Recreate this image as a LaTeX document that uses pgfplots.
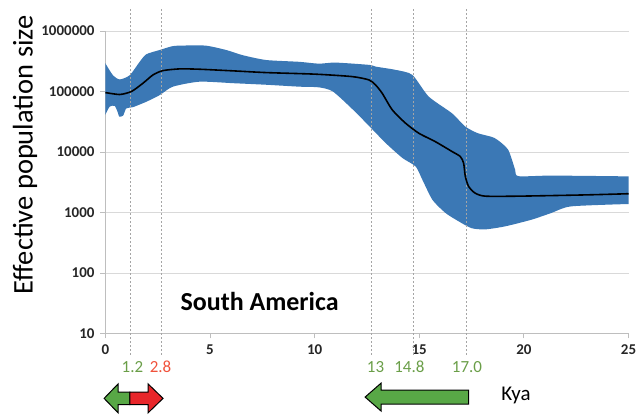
\documentclass[border=0pt]{standalone}
\usepackage{pgfplots}
\pgfplotsset{compat=1.18}
\usepgfplotslibrary{fillbetween}
\usepackage{fontspec}
\setmainfont{Carlito}
\newcommand\tl[1]{{\bfseries\fontsize{15}{17}\selectfont #1}}
\definecolor{bandblue}{RGB}{59,120,181}
\definecolor{gridgray}{RGB}{217,217,217}
\definecolor{axisgray}{RGB}{190,190,190}
\definecolor{dashgray}{RGB}{165,165,165}
\definecolor{arrgreen}{RGB}{88,168,70}
\definecolor{arrred}{RGB}{232,38,42}
\definecolor{txtgreen}{RGB}{106,158,72}
\definecolor{txtred}{RGB}{240,82,60}
\begin{document}
\begin{tikzpicture}
\begin{axis}[
  at={(0pt,0pt)}, anchor=south west,
  scale only axis, width=524pt, height=303pt,
  xmin=0, xmax=25, ymin=10, ymax=1000000,
  ymode=log, yminorticks=false,
  axis lines*=left,
  axis line style={draw=axisgray, line width=0.8pt},
  ymajorgrids, grid style={gridgray, line width=0.8pt},
  xtick={0,5,10,15,20,25},
  xticklabels={\tl{0},\tl{5},\tl{10},\tl{15},\tl{20},\tl{25}},
  ytick={10,100,1000,10000,100000,1000000},
  yticklabels={\tl{10},\tl{100},\tl{1000},\tl{10000},\tl{100000},\tl{1000000}},
  tick align=outside, major tick length=5pt,
  tick style={axisgray, line width=0.8pt},
  xticklabel style={text=black!85, yshift=-2.5pt},
  yticklabel style={text=black!85, xshift=-2.3pt},
  ylabel={Effective population size},
  every axis y label/.style={at={(axis description cs:-0.1536,0.5908)}, anchor=center, rotate=90, font=\fontsize{28.5}{31}\selectfont},
  clip=false,
]
% vertical dashed reference lines
\addplot[dashgray, line width=0.7pt, dash pattern=on 2pt off 2pt] coordinates {(1.2,4.47) (1.2,2.4e6)};
\addplot[dashgray, line width=0.7pt, dash pattern=on 2pt off 2pt] coordinates {(2.66,4.47) (2.66,2.4e6)};
\addplot[dashgray, line width=0.7pt, dash pattern=on 2pt off 2pt] coordinates {(12.7,4.47) (12.7,2.4e6)};
\addplot[dashgray, line width=0.7pt, dash pattern=on 2pt off 2pt] coordinates {(14.7,4.47) (14.7,2.4e6)};
\addplot[dashgray, line width=0.7pt, dash pattern=on 2pt off 2pt] coordinates {(17.25,4.47) (17.25,2.4e6)};
% credible interval band
\addplot[name path=U, draw=none, smooth, tension=0.4] coordinates {
(0,293000) (0.36,186000) (0.69,158000) (1.17,186000) (1.64,309000) (1.96,412000)
(2.6,485000) (3.23,562000) (3.87,575000) (4.82,571000) (5.77,485000) (6.56,398000)
(7.68,331000) (9.26,309000) (10.2,288000) (11.0,300000) (12.6,275000) (12.93,257000)
(13.88,227000) (14.67,188000) (15.45,82400) (16.56,43700) (17.2,26300) (17.8,20400)
(18.6,17000) (19.24,11000) (19.58,5130) (19.74,3980) (21.33,4070) (25,3950)};
\addplot[name path=L, draw=none, smooth, tension=0.4] coordinates {
(0,41100) (0.21,56200) (0.45,57500) (0.6,44700) (0.66,38500) (0.85,39800)
(1.0,52500) (1.32,55000) (1.96,67600) (2.6,87100) (3.23,120000) (4.5,145000)
(6.1,137000) (7.7,129000) (9.26,120000) (10.2,117000) (10.87,100000) (11.84,49700)
(12.63,26300) (13.4,14000) (14.2,7940) (14.83,5750) (15.15,3470) (15.63,1620)
(16.26,977) (16.9,708) (17.5,550) (18.15,525) (19.1,589) (20.36,759) (21.3,977)
(22.25,1260) (25,1380)};
\addplot[bandblue, draw=none] fill between[of=U and L];
% median
\addplot[black, line width=1.6pt, smooth, tension=0.4] coordinates {
(0,95900) (0.69,89100) (1.25,100000) (1.8,137000) (2.28,188000) (2.75,221000)
(3.55,236000) (4.5,233000) (6.1,219000) (7.7,205000) (10.05,193000) (11.8,176000)
(12.6,155000) (12.91,128500) (13.23,93300) (13.71,49700) (14.34,30000) (14.98,20400)
(15.77,14800) (16.56,10200) (16.96,8430) (17.12,6550) (17.2,3980) (17.36,2690)
(17.67,2090) (18.15,1860) (19.74,1860) (22.9,1950) (25,2040)};
\node[font=\bfseries\fontsize{26}{30}\selectfont, anchor=center] at (axis description cs:0.2948,0.1066) {South America};
\node[font=\fontsize{17}{20}\selectfont, text=txtgreen, anchor=base] at ([yshift=-39.4pt]axis cs:1.295,10) {1.2};
\node[font=\fontsize{17}{20}\selectfont, text=txtred, anchor=base] at ([yshift=-39.4pt]axis cs:2.64,10) {2.8};
\node[font=\fontsize{17}{20}\selectfont, text=txtgreen, anchor=base] at ([yshift=-39.4pt]axis cs:12.91,10) {13};
\node[font=\fontsize{17}{20}\selectfont, text=txtgreen, anchor=base] at ([yshift=-39.4pt]axis cs:14.53,10) {14.8};
\node[font=\fontsize{17}{20}\selectfont, text=txtgreen, anchor=base] at ([yshift=-39.4pt]axis cs:17.28,10) {17.0};
\end{axis}
% arrows
\draw[fill=arrgreen, line width=1pt, line join=miter] (-1.2pt,-65pt) -- (12.8pt,-50.5pt) -- (12.8pt,-58.8pt) -- (24.5pt,-58.8pt) -- (24.5pt,-71.2pt) -- (12.8pt,-71.2pt) -- (12.8pt,-79.5pt) -- cycle;
\draw[fill=arrred, line width=1pt, line join=miter] (24.5pt,-58.8pt) -- (42.8pt,-58.8pt) -- (42.8pt,-50.5pt) -- (57.8pt,-65pt) -- (42.8pt,-79.5pt) -- (42.8pt,-71.2pt) -- (24.5pt,-71.2pt) -- cycle;
\draw[fill=arrgreen, line width=1pt, line join=miter] (260.2pt,-63.7pt) -- (276.2pt,-49.7pt) -- (276.2pt,-56.7pt) -- (363.8pt,-56.7pt) -- (363.8pt,-70.7pt) -- (276.2pt,-70.7pt) -- (276.2pt,-77.7pt) -- cycle;
\node[font=\fontsize{21}{24}\selectfont] at (411.2pt,-61.7pt) {Kya};
\pgfresetboundingbox
\path[use as bounding box] (-105.5pt,-82pt) rectangle (531.5pt,334pt);
\end{tikzpicture}
\end{document}
